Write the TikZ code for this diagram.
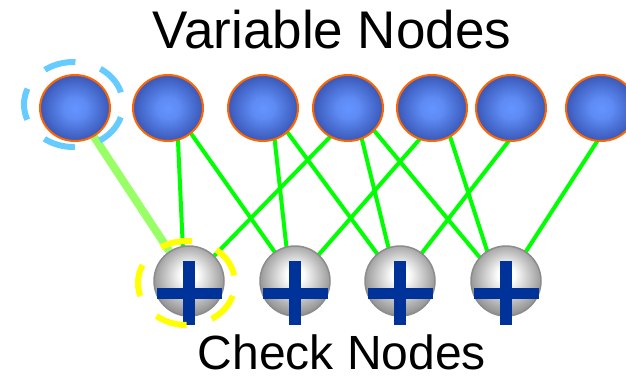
\documentclass[tikz,border=0pt]{standalone}
\usepackage{fontspec}
\setmainfont{Liberation Sans}
\usetikzlibrary{calc,shapes.geometric,backgrounds}
\definecolor{vcenter}{HTML}{6494FF}
\definecolor{vedge}{HTML}{3A58B8}
\definecolor{vborder}{HTML}{FF6600}
\definecolor{cborder}{HTML}{8C8C8C}
\definecolor{cedge}{HTML}{858585}
\definecolor{plusblue}{HTML}{003399}
\definecolor{edgegreen}{HTML}{00FF00}
\definecolor{lightgreen}{HTML}{99FF66}
\definecolor{ringblue}{HTML}{66CCFF}
\definecolor{ringyellow}{HTML}{FFFF00}
\pgfdeclareradialshading{varball}{\pgfpoint{0bp}{0bp}}{color(0bp)=(vcenter); color(8bp)=(vcenter!85!vedge); color(25bp)=(vedge); color(50bp)=(vedge)}
\pgfdeclareradialshading{checkball}{\pgfpoint{0bp}{5bp}}{color(0bp)=(white); color(6bp)=(white); color(29bp)=(cedge); color(50bp)=(cedge)}
\tikzset{
  varnode/.style={ellipse, minimum width=70pt, minimum height=66pt, inner sep=0pt,
    draw=vborder, line width=2pt, shade, shading=varball},
  checknode/.style={circle, minimum size=70pt, inner sep=0pt,
    draw=cborder, line width=1.5pt, shade, shading=checkball},
  link/.style={edgegreen, line width=4pt, shorten <=-3pt, shorten >=-3pt},
  hilink/.style={lightgreen, line width=8pt},
  ring/.style={line width=6pt, dash pattern=on 32pt off 26pt, dash phase=45pt},
  titletext/.style={inner sep=0pt, anchor=base, text depth=0pt},
  plusbar/.style={fill=plusblue}
}
\begin{document}
\begin{tikzpicture}[x=1pt, y=-1pt]
\useasboundingbox (0,0) rectangle (626,380);

\foreach \i/\x in {1/75,2/168,3/263,4/348,5/432,6/511,7/601}
  \node[varnode] (v\i) at (\x,108) {};
\foreach \i/\x in {1/189,2/295,3/400,4/506}
  \node[checknode] (c\i) at (\x,281) {};

\begin{scope}[on background layer]
  \draw[hilink] (v1) -- (c1);
  \draw[link] (v2.-73) -- (c1.100);
  \draw[link] (v2.-48) -- (c2.125);
  \draw[link] (v3.-70) -- (c2.104);
  \draw[link] (v3.-45) -- (c3.130);
  \draw[link] (v4.-122) -- (c1.45);
  \draw[link] (v4.-66) -- (c3.109);
  \draw[link] (v4.-41) -- (c4.138);
  \draw[link] (v5.-112) -- (c2.48);
  \draw[link] (v5.-58) -- (c4.122);
  \draw[link] (v6.-95) -- (c3.52);
  \draw[link] (v7.-97) -- (c4.56);
\end{scope}

\foreach \c in {c1,c2,c3,c4}{
  \fill[plusbar] ($(\c)+(-6,-20)$) rectangle ($(\c)+(6,44)$);
  \fill[plusbar] ($(\c)+(-32,7)$) rectangle ($(\c)+(33,18)$);
}

\draw[ring, ringblue] ($(v1)+(-1.5,-3.5)$) ellipse [x radius=49.5, y radius=42.5];
\draw[ring, ringyellow] ($(c1)+(-2.5,2)$) ellipse [x radius=48.5, y radius=42];

\node[titletext, font=\fontsize{53pt}{60pt}\selectfont] (vt) at (332,48) {Variable Nodes};
\node[titletext, font=\fontsize{48pt}{56pt}\selectfont] (ct) at (342,369) {Check Nodes};
\end{tikzpicture}
\end{document}
